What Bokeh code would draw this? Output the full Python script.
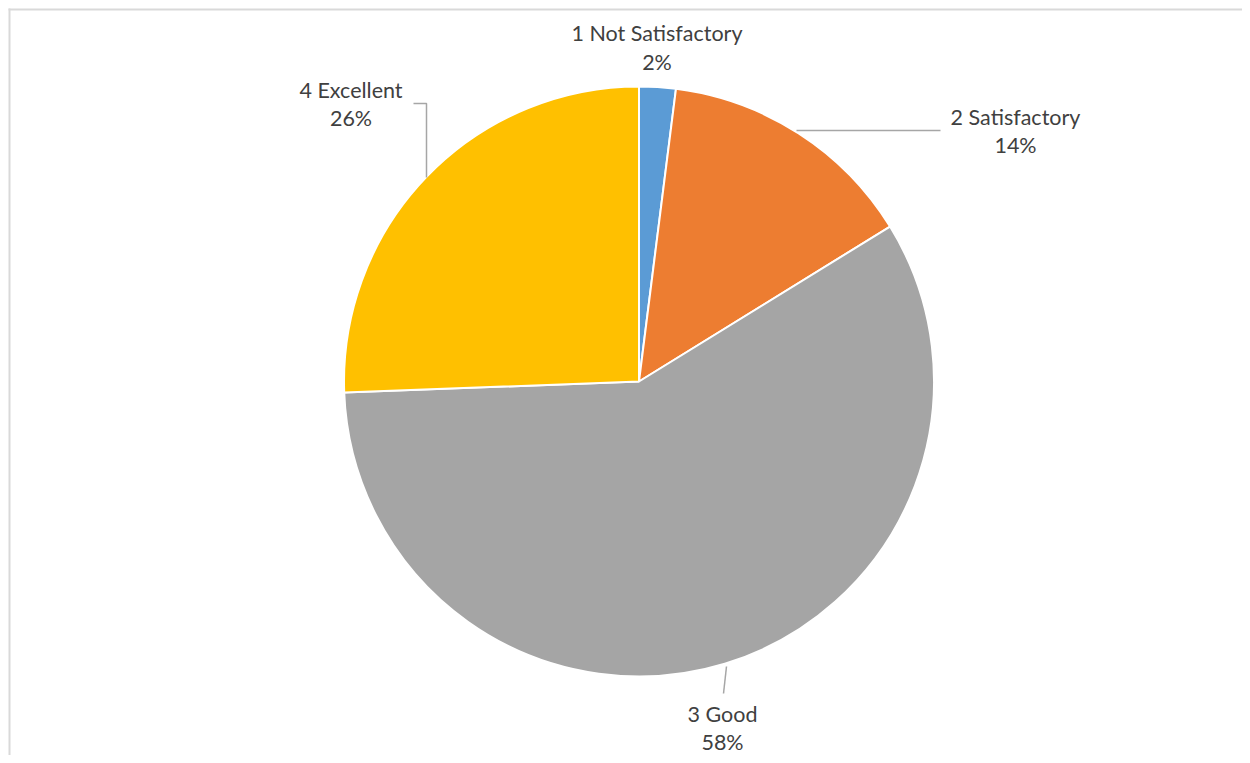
import numpy as np
from bokeh.plotting import figure
from bokeh.models import ColumnDataSource, Range1d
from bokeh.core.properties import value
from bokeh.embed import file_html
from bokeh.resources import INLINE

# ---- data ----
categories = ["1 Not Satisfactory", "2 Satisfactory", "3 Good", "4 Excellent"]
shares = [2.0, 14.2, 58.2, 25.6]
pct_labels = ["2%", "14%", "58%", "26%"]
colors = ["#5B9BD5", "#ED7D31", "#A5A5A5", "#FFC000"]

# ---- layout (screen-like px) ----
W, H = 1242, 755
CX, CY, R = 638.5, H - 381.0, 295.0

def sx(x):
    return x

def sy(y):
    return H - y

# label positions (screen coords: centre x, vertical centre of first line)
label_pos = [(656.5, 32.5), (1015, 116), (722, 713), (350.5, 89)]
LINE_GAP = 28.5

fr = np.array(shares) / np.sum(shares)
cum = np.concatenate([[0], np.cumsum(fr)])
start = np.pi / 2 - 2 * np.pi * cum[:-1]
end = np.pi / 2 - 2 * np.pi * cum[1:]

src = ColumnDataSource(dict(cat=categories, start=start, end=end, color=colors))

p = figure(width=W, height=H, x_range=Range1d(0, W), y_range=Range1d(0, H),
           output_backend="svg", toolbar_location=None, min_border=0)
p.axis.visible = False
p.grid.visible = False
p.outline_line_color = None
p.background_fill_color = "white"
p.border_fill_color = "white"

# chart border (top and left visible)
p.line(x=[sx(9), sx(9)], y=[0, sy(8)], line_color="#D9D9D9", line_width=2)
p.line(x=[sx(8), W], y=[sy(9), sy(9)], line_color="#D9D9D9", line_width=2)

p.wedge(x=CX, y=CY, radius=R, start_angle="start", end_angle="end",
        direction="clock", fill_color="color", line_color="white",
        line_width=2, source=src)

# leader lines
leaders = [
    ([sx(413), sx(426), sx(426)], [sy(103), sy(103), sy(177)]),
    ([sx(796), sx(940)], [sy(130), sy(130)]),
    ([sx(726), sx(723)], [sy(666), sy(693)]),
]
for xs, ys in leaders:
    p.line(x=xs, y=ys, line_color="#A6A6A6", line_width=1.5)

lx = [sx(a) for a, b in label_pos]
ly1 = [sy(b) for a, b in label_pos]
ly2 = [sy(b + LINE_GAP) for a, b in label_pos]
lsrc = ColumnDataSource(dict(x=lx, y1=ly1, y2=ly2, name=categories, pct=pct_labels))
for col, ycol in (("name", "y1"), ("pct", "y2")):
    p.text(x="x", y=ycol, text=col, source=lsrc, text_align="center",
           text_baseline="middle", text_font=value("Lato"),
           text_font_size="21.5px", text_color="#404040")

open("out.html", "w").write(file_html(p, INLINE))
